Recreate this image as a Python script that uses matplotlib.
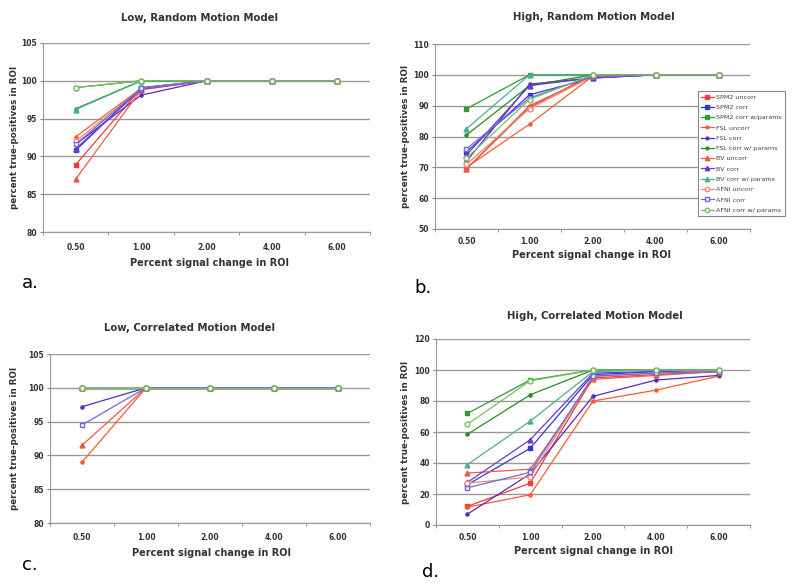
import matplotlib.pyplot as plt
from matplotlib.ticker import FixedLocator

# categories on the x axis
signal = ['0.50', '1.00', '2.00', '4.00', '6.00']

series = ['SPM2 uncorr', 'SPM2 corr', 'SPM2 corr w/params',
          'FSL uncorr', 'FSL corr', 'FSL corr w/ params',
          'BV uncorr', 'BV corr', 'BV corr w/ params',
          'AFNI uncorr', 'AFNI corr', 'AFNI corr w/ params']

# a. Low, Random Motion Model
low_random = [
    [88.9, 99.0, 100, 100, 100],
    [90.8, 99.1, 100, 100, 100],
    [99.1, 100, 100, 100, 100],
    [92.6, 99.0, 100, 100, 100],
    [91.6, 98.1, 100, 100, 100],
    [96.3, 100, 100, 100, 100],
    [87.0, 98.8, 100, 100, 100],
    [91.0, 98.9, 100, 100, 100],
    [96.2, 100, 100, 100, 100],
    [92.0, 99.0, 100, 100, 100],
    [91.6, 99.0, 100, 100, 100],
    [99.1, 100, 100, 100, 100],
]

# b. High, Random Motion Model
high_random = [
    [69.5, 89.5, 100, 100, 100],
    [75.0, 93.5, 99.0, 100, 100],
    [89.0, 100, 100, 100, 100],
    [70.0, 84.0, 99.5, 100, 100],
    [72.0, 97.0, 99.0, 100, 100],
    [80.5, 96.5, 100, 100, 100],
    [69.5, 90.0, 99.5, 100, 100],
    [74.0, 96.5, 99.0, 100, 100],
    [82.5, 100, 100, 100, 100],
    [71.0, 89.0, 99.5, 100, 100],
    [76.0, 92.5, 99.5, 100, 100],
    [73.0, 92.0, 100, 100, 100],
]

# c. Low, Correlated Motion Model
low_corr = [
    [100, 100, 100, 100, 100],
    [100, 100, 100, 100, 100],
    [100, 100, 100, 100, 100],
    [89.0, 100, 100, 100, 100],
    [97.2, 100, 100, 100, 100],
    [100, 100, 100, 100, 100],
    [91.5, 100, 100, 100, 100],
    [100, 100, 100, 100, 100],
    [100, 100, 100, 100, 100],
    [100, 100, 100, 100, 100],
    [94.5, 100, 100, 100, 100],
    [100, 100, 100, 100, 100],
]

# d. High, Correlated Motion Model
high_corr = [
    [12.0, 27.0, 95.0, 97.0, 99.0],
    [26.0, 49.5, 97.0, 99.0, 99.5],
    [72.0, 93.5, 100, 100, 100],
    [11.5, 19.5, 80.0, 87.0, 96.0],
    [7.0, 33.0, 83.0, 93.5, 96.5],
    [58.5, 84.0, 100, 100, 100],
    [33.5, 36.0, 94.0, 96.5, 99.0],
    [27.5, 55.0, 98.0, 99.0, 100],
    [39.0, 67.0, 99.0, 100, 100],
    [27.0, 31.0, 96.0, 98.0, 99.5],
    [24.0, 34.0, 96.0, 98.0, 99.0],
    [65.0, 93.0, 100, 100, 100],
]

colors = ['#ee3a3a', '#3434d4', '#2f9a2f',
          '#ff5a30', '#5a2ab8', '#2a8a2a',
          '#ee5a48', '#6a3ad0', '#4cae8c',
          '#f08a70', '#6a6ae0', '#78c060']
markers = ['s', 's', 's', '.', '.', '.', '^', '^', '^', 'o', 's', 'o']
sizes = [3.5, 3.5, 3.5, 4.5, 4.5, 4.5, 3.5, 3.5, 3.5, 3.5, 3.5, 3.5]
filled = [True] * 9 + [False] * 3

W, H = 800, 587
fig = plt.figure(figsize=(8, 5.87), dpi=100)


def px_axes(left, top, right, bottom):
    return fig.add_axes([left / W, 1 - bottom / H, (right - left) / W, (bottom - top) / H])


def draw(ax, data, ylim, step, xpad):
    x = range(len(signal))
    for i, vals in enumerate(data):
        ax.plot(x, vals, color=colors[i], marker=markers[i], markersize=sizes[i],
                markerfacecolor=colors[i] if filled[i] else 'white',
                markeredgecolor=colors[i], linewidth=0.9, label=series[i], zorder=3)
    ax.set_xlim(-0.5, 4.5)
    ax.set_ylim(*ylim)
    ax.set_yticks(range(ylim[0], ylim[1] + 1, step))
    ax.set_xticks(list(x))
    ax.set_xticklabels(signal)
    ax.xaxis.set_minor_locator(FixedLocator([-0.5, 0.5, 1.5, 2.5, 3.5, 4.5]))
    ax.tick_params(axis='x', which='major', length=0, pad=xpad)
    ax.tick_params(axis='x', which='minor', length=2.5, color='#888888')
    ax.tick_params(axis='y', length=2.5, color='#888888', pad=2)
    for lab in ax.get_xticklabels() + ax.get_yticklabels():
        lab.set_fontsize(5.5)
        lab.set_fontweight('bold')
        lab.set_color('#333333')
    ax.grid(axis='y', color='#999999', linewidth=1)
    ax.set_axisbelow(True)
    for s in ['top', 'right']:
        ax.spines[s].set_visible(False)
    for s in ['left', 'bottom']:
        ax.spines[s].set_color('#999999')


ax_a = px_axes(43, 43, 370, 232)
draw(ax_a, low_random, (80, 105), 5, 8)
ax_b = px_axes(435, 44, 750, 229)
draw(ax_b, high_random, (50, 110), 10, 6)
ax_c = px_axes(50, 354, 370, 523)
draw(ax_c, low_corr, (80, 105), 5, 7)
ax_d = px_axes(436, 339, 750, 525)
draw(ax_d, high_corr, (0, 120), 20, 6)

titles = [('Low, Random Motion Model', 200, 18),
          ('High, Random Motion Model', 594, 17),
          ('Low, Correlated Motion Model', 190, 328),
          ('High, Correlated Motion Model', 595, 316)]
for t, x, y in titles:
    fig.text(x / W, 1 - y / H, t, ha='center', va='center', fontsize=7.3,
             fontweight='bold', color='#333333')

for x, y in [(210, 263), (592, 255), (212, 553), (594, 551)]:
    fig.text(x / W, 1 - y / H, 'Percent signal change in ROI', ha='center', va='center',
             fontsize=7, fontweight='bold', color='#333333')

for x, y0, y1 in [(15, 43, 232), (405, 44, 229), (15, 354, 523), (406, 339, 525)]:
    fig.text(x / W, 1 - (y0 + y1) / 2 / H, 'percent true-positives in ROI', ha='center',
             va='center', rotation=90, fontsize=6.3, fontweight='bold', color='#333333')

for t, x, y in [('a.', 22, 283), ('b.', 414, 288), ('c.', 22, 565), ('d.', 422, 572)]:
    fig.text(x / W, 1 - y / H, t, ha='left', va='center', fontsize=13)

leg = ax_b.legend(loc='upper left', bbox_to_anchor=(695 / W, 1 - 88 / H),
                  bbox_transform=fig.transFigure, fontsize=4.6, labelspacing=0.75,
                  handlelength=1.9, handletextpad=0.4, borderpad=0.5, markerscale=0.9,
                  fancybox=False, framealpha=1)
leg.get_frame().set_edgecolor('#888888')
leg.get_frame().set_linewidth(0.8)
for txt in leg.get_texts():
    txt.set_color('#444444')

fig.savefig('out.png', dpi=100)
